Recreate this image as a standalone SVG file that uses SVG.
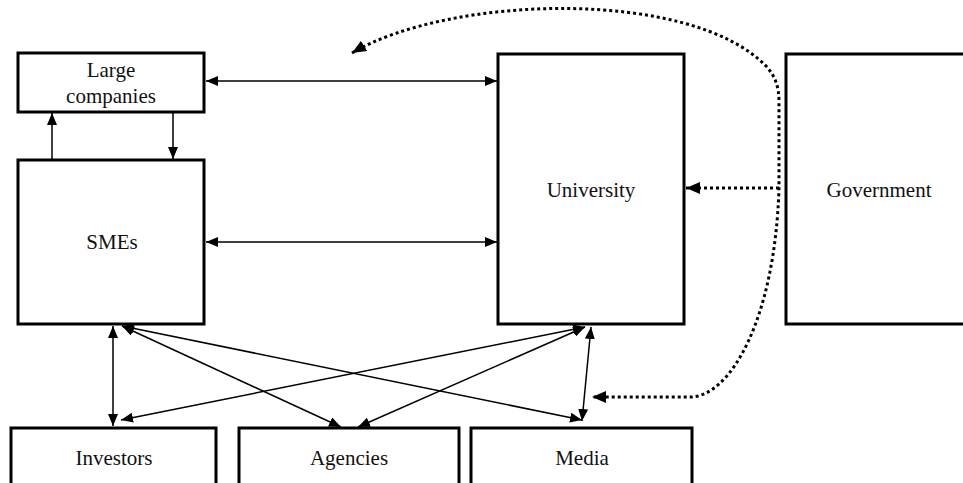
<svg xmlns="http://www.w3.org/2000/svg" width="963" height="483" viewBox="0 0 963 483">
<style>
.box{fill:#fff;stroke:#000;stroke-width:3}
.lbl{font-family:"Liberation Serif","Times New Roman",serif;font-size:21px;fill:#111;text-anchor:middle}
.ln{fill:none;stroke:#000;stroke-width:1.5}
.dot{fill:none;stroke:#000;stroke-width:3;stroke-dasharray:3 3}
</style>
<defs>
<marker id="ah" viewBox="0 0 12 10" refX="12" refY="5" markerWidth="12" markerHeight="10" markerUnits="userSpaceOnUse" orient="auto-start-reverse">
<path d="M0,0 L12,5 L0,10 Z" fill="#000"/>
</marker>
<marker id="ahd" viewBox="0 0 14 12" refX="14" refY="6" markerWidth="14" markerHeight="12" markerUnits="userSpaceOnUse" orient="auto-start-reverse">
<path d="M0,0 L14,6 L0,12 Z" fill="#000"/>
</marker>
</defs>
<rect width="963" height="483" fill="#fff"/>
<g id="large-companies"><rect class="box" x="18" y="53" width="186" height="59"/><text class="lbl" x="111" y="77">Large</text><text class="lbl" x="111" y="103">companies</text></g>
<g id="smes"><rect class="box" x="18" y="160" width="186" height="164"/><text class="lbl" x="112" y="249">SMEs</text></g>
<g id="university"><rect class="box" x="498" y="54" width="186" height="270"/><text class="lbl" x="591" y="197">University</text></g>
<g id="government"><rect class="box" x="786" y="54" width="186" height="270"/><text class="lbl" x="879" y="197">Government</text></g>
<g id="investors"><rect class="box" x="11" y="428" width="205" height="70"/><text class="lbl" x="114" y="465">Investors</text></g>
<g id="agencies"><rect class="box" x="239" y="428" width="220" height="70"/><text class="lbl" x="349" y="465">Agencies</text></g>
<g id="media"><rect class="box" x="471" y="428" width="221" height="70"/><text class="lbl" x="582" y="465">Media</text></g>
<g id="connectors">
<line class="ln" x1="206" y1="81" x2="497" y2="81" marker-start="url(#ah)" marker-end="url(#ah)"/>
<line class="ln" x1="206" y1="242" x2="497" y2="242" marker-start="url(#ah)" marker-end="url(#ah)"/>
<line class="ln" x1="52" y1="159" x2="52" y2="113" marker-end="url(#ah)"/>
<line class="ln" x1="173" y1="113" x2="173" y2="159" marker-end="url(#ah)"/>
<line class="ln" x1="113" y1="326" x2="113" y2="426" marker-start="url(#ah)" marker-end="url(#ah)"/>
<line class="ln" x1="122" y1="326" x2="341" y2="427" marker-start="url(#ah)" marker-end="url(#ah)"/>
<line class="ln" x1="122" y1="326" x2="582" y2="420" marker-start="url(#ah)" marker-end="url(#ah)"/>
<line class="ln" x1="585" y1="327" x2="121" y2="420" marker-start="url(#ah)" marker-end="url(#ah)"/>
<line class="ln" x1="585" y1="327" x2="358" y2="427" marker-start="url(#ah)" marker-end="url(#ah)"/>
<line class="ln" x1="591" y1="327" x2="582" y2="421" marker-start="url(#ah)" marker-end="url(#ah)"/>
<path class="dot" d="M352,53 C450,-5 690,-12 766,66 C775,76 779,86 779,102 L779,188 C775,320 730,397 690,397 L592,397" marker-start="url(#ahd)" marker-end="url(#ahd)"/>
<line class="dot" x1="779" y1="188" x2="686" y2="188" marker-end="url(#ahd)"/>
</g>
</svg>
